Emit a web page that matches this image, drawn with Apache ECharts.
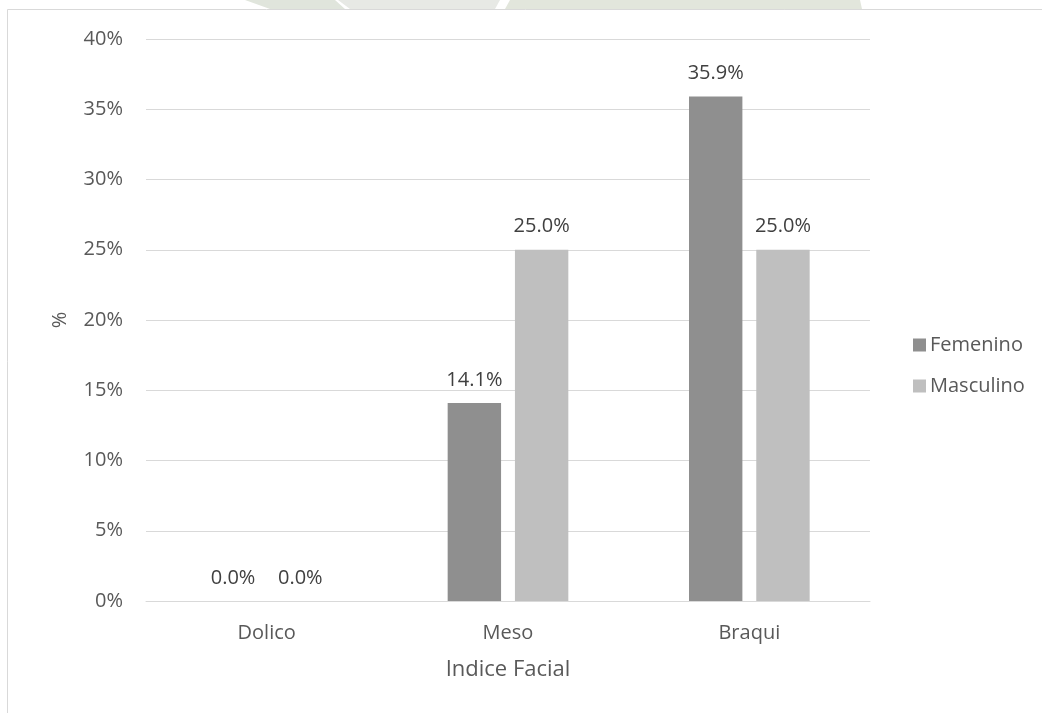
<!DOCTYPE html>
<html><head><meta charset="utf-8">
<script src="https://cdn.jsdelivr.net/npm/echarts@6/dist/echarts.min.js"></script>
<style>html,body{margin:0;padding:0;background:#fff}#c{width:1042px;height:713px}</style>
</head><body><div id="c"></div>
<script>
const categories = ['Dolico', 'Meso', 'Braqui'];
const femenino = [0.0, 14.1, 35.9];
const masculino = [0.0, 25.0, 25.0];
const seriesNames = ['Femenino', 'Masculino'];
const xTitle = 'Indice Facial';
const yTitle = '%';

const font = '"Open Sans", "Noto Sans", sans-serif';
const chart = echarts.init(document.getElementById('c'));
const lbl = {show: true, position: 'top', distance: 13, color: '#404040', fontSize: 20, fontFamily: font,
  formatter: p => p.value.toFixed(1) + '%'};
chart.setOption({
  animation: false,
  textStyle: {fontFamily: font},
  graphic: [
    {type: 'polygon', shape: {points: [[245, 0], [335, 0], [345, 9], [270, 9]]}, style: {fill: '#e0e5dc'}, silent: true},
    {type: 'polygon', shape: {points: [[338, 0], [500, 0], [495, 9], [350, 9]]}, style: {fill: '#e7e9e5'}, silent: true},
    {type: 'polygon', shape: {points: [[510, 0], [860, 0], [862, 9], [505, 9]]}, style: {fill: '#e2e6dc'}, silent: true},
    {type: 'rect', shape: {x: 7.5, y: 9.5, width: 1100, height: 800}, style: {fill: '#fff', stroke: '#d9d9d9', lineWidth: 1}, silent: true, z: -1}
  ],
  grid: {left: 146, right: 172, top: 39, bottom: 112, containLabel: false},
  legend: {
    orient: 'vertical', left: 908, top: 330, itemGap: 21, itemWidth: 13, itemHeight: 13, icon: 'rect',
    textStyle: {color: '#595959', fontSize: 20, fontFamily: font, padding: [0, 0, 0, -1]},
    data: seriesNames
  },
  xAxis: {
    type: 'category', data: categories,
    name: xTitle, nameLocation: 'middle', nameGap: 58,
    nameTextStyle: {color: '#595959', fontSize: 22, fontFamily: font},
    axisLine: {lineStyle: {color: '#d9d9d9', width: 1}},
    axisTick: {show: false},
    axisLabel: {color: '#595959', fontSize: 20, margin: 22, fontFamily: font}
  },
  yAxis: {
    type: 'value', min: 0, max: 40, interval: 5,
    name: yTitle, nameLocation: 'middle', nameGap: 76, nameRotate: 90,
    nameTextStyle: {color: '#595959', fontSize: 20, fontFamily: font},
    axisLine: {show: false}, axisTick: {show: false},
    axisLabel: {color: '#595959', fontSize: 20, margin: 23, fontFamily: font, formatter: v => v + '%'},
    splitLine: {lineStyle: {color: '#d9d9d9', width: 1}}
  },
  series: [
    {name: seriesNames[0], type: 'bar', data: femenino, barGap: '26%', barCategoryGap: '50%',
      itemStyle: {color: '#8f8f8f'}, label: lbl},
    {name: seriesNames[1], type: 'bar', data: masculino,
      itemStyle: {color: '#bfbfbf'}, label: lbl}
  ]
});
</script></body></html>
